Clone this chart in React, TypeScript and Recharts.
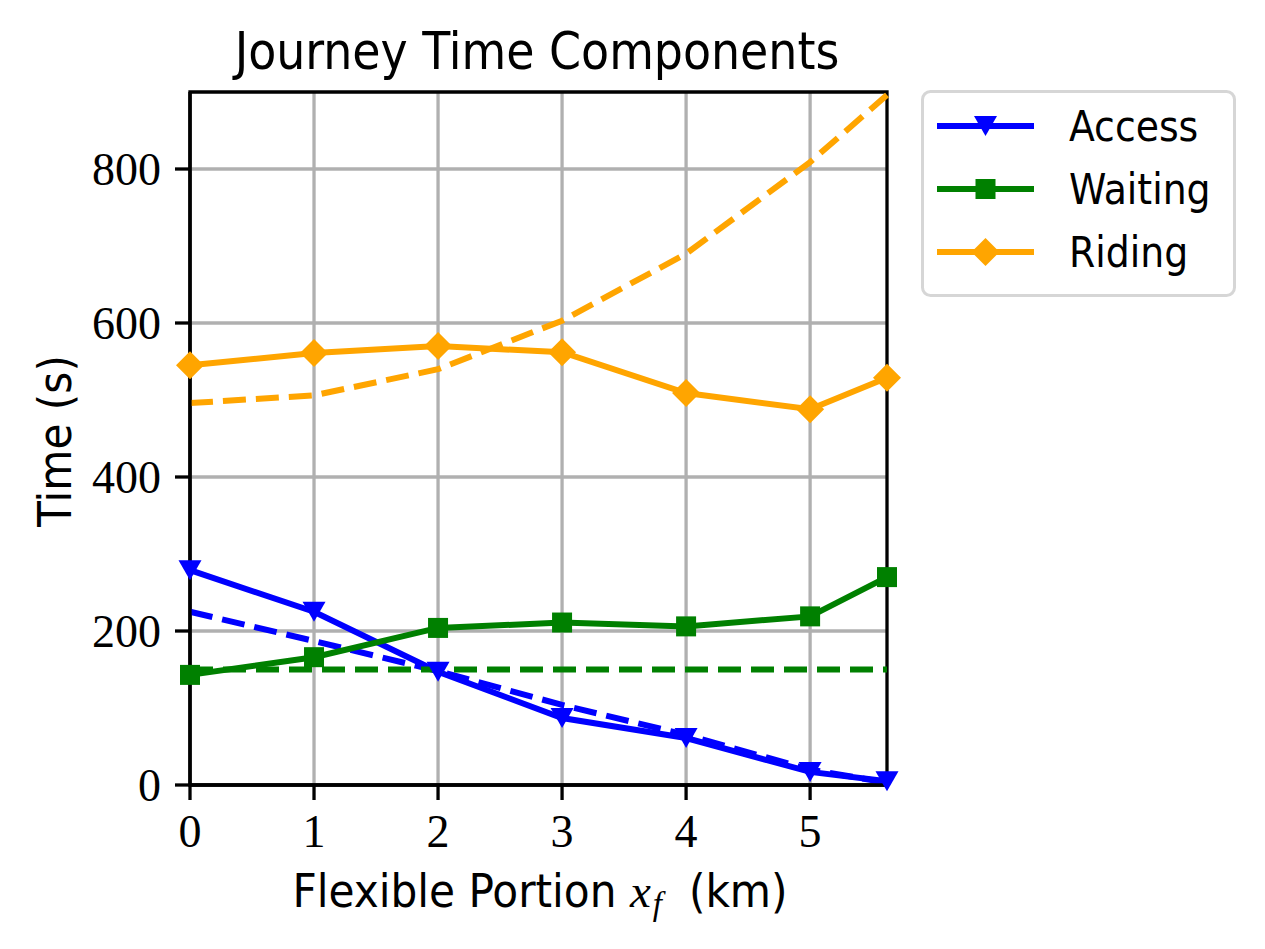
import React from 'react';
import { LineChart, Line, XAxis, YAxis, CartesianGrid, Legend, ReferenceArea } from 'recharts';

const xValues = [0, 1, 2, 3, 4, 5, 5.62];
const accessSim = [279, 225, 147, 87, 61, 17, 5];
const accessModel = [225, 187, 148, 104, 65, 20, 3];
const waitingSim = [143, 166, 204, 211, 206, 219, 270];
const waitingModel = [150, 150, 150, 150, 150, 150, 150];
const ridingSim = [545, 561, 570, 562, 509, 488, 529];
const ridingModel = [496, 506, 540, 603, 690, 809, 896];
const xTicks = [0, 1, 2, 3, 4, 5];
const yTicks = [0, 200, 400, 600, 800];
const seriesNames = ['Access', 'Waiting', 'Riding'];
const seriesColors = ['#0000ff', '#008000', '#ffa500'];
const seriesMarkers = ['triangle', 'square', 'diamond'];

const data = xValues.map((x, i) => ({
  x,
  accessSim: accessSim[i],
  accessModel: accessModel[i],
  waitingSim: waitingSim[i],
  waitingModel: waitingModel[i],
  ridingSim: ridingSim[i],
  ridingModel: ridingModel[i],
}));

const SANS = "'Liberation Sans Narrow', 'DejaVu Sans Condensed', 'DejaVu Sans', sans-serif";
const SERIF = "'Liberation Serif', 'DejaVu Serif', serif";

function Marker({ kind, cx, cy, color }: { kind: string; cx: number; cy: number; color: string }) {
  if (kind === 'triangle') {
    return <polygon points={`${cx - 11.5},${cy - 10} ${cx + 11.5},${cy - 10} ${cx},${cy + 10}`} fill={color} />;
  }
  if (kind === 'square') {
    return <rect x={cx - 10} y={cy - 10} width={20} height={20} fill={color} />;
  }
  return <polygon points={`${cx},${cy - 14} ${cx + 14},${cy} ${cx},${cy + 14} ${cx - 14},${cy}`} fill={color} />;
}

const makeDot = (kind: string, color: string) => (props: any) => {
  const { cx, cy, index } = props;
  if (cx == null || cy == null) return <g key={`d-${kind}-${index}`} />;
  return (
    <g key={`d-${kind}-${index}`}>
      <Marker kind={kind} cx={cx} cy={cy} color={color} />
    </g>
  );
};

function LegendBox() {
  return (
    <svg width={316} height={208} style={{ display: 'block' }}>
      <rect x={1.5} y={1.5} width={312} height={204} rx={8} ry={8} fill="#ffffff" fillOpacity={0.8} stroke="#d6d6d6" strokeWidth={3} />
      {seriesNames.map((name, i) => {
        const y = 36 + i * 63;
        return (
          <g key={name}>
            <line x1={16} x2={113} y1={y} y2={y} stroke={seriesColors[i]} strokeWidth={6} />
            <Marker kind={seriesMarkers[i]} cx={64.5} cy={y} color={seriesColors[i]} />
            <text x={148} y={y + 15} fontFamily={SANS} fontSize={42} fill="#000">
              {name}
            </text>
          </g>
        );
      })}
    </svg>
  );
}

export default function App() {
  return (
    <div style={{ position: 'absolute', left: 0, top: 0, width: 1265, height: 949, background: '#fff' }}>
      <LineChart
        width={1265}
        height={949}
        data={data}
        margin={{ top: 92, right: 378, bottom: 0, left: 0 }}
      >
        <CartesianGrid stroke="#b0b0b0" strokeWidth={3.3} horizontalValues={yTicks} verticalValues={xTicks} />
        <XAxis
          dataKey="x"
          type="number"
          domain={[0, 5.62]}
          ticks={xTicks}
          height={164}
          tickSize={15}
          tickMargin={14}
          axisLine={{ stroke: '#000', strokeWidth: 3.3 }}
          tickLine={{ stroke: '#000', strokeWidth: 3.3 }}
          tick={{ fill: '#000', fontFamily: SERIF, fontSize: 46 }}
          interval={0}
          label={(props: any) => (
            <text x={540} y={907} textAnchor="middle" fontFamily={SANS} fontSize={47} fill="#000">
              Flexible Portion{'\u00a0'}
              <tspan fontFamily={SERIF} fontStyle="italic">x</tspan>
              <tspan fontFamily={SERIF} fontStyle="italic" fontSize={33} dy={8} dx={2}>f</tspan>
              <tspan dy={-8}>{'\u00a0\u00a0(km)'}</tspan>
            </text>
          )}
        />
        <YAxis
          type="number"
          domain={[0, 900]}
          ticks={yTicks}
          width={190}
          tickSize={15}
          tickMargin={14}
          axisLine={{ stroke: '#000', strokeWidth: 3.3 }}
          tickLine={{ stroke: '#000', strokeWidth: 3.3 }}
          tick={{ fill: '#000', fontFamily: SERIF, fontSize: 46 }}
          interval={0}
          label={(props: any) => (
            <text
              x={54}
              y={441}
              transform="rotate(-90 54 441)"
              textAnchor="middle"
              dominantBaseline="central"
              fontFamily={SANS}
              fontSize={47}
              fill="#000"
            >
              Time (s)
            </text>
          )}
        />
        <Legend
          layout="horizontal"
          verticalAlign="middle"
          align="center"
          wrapperStyle={{ left: 921, top: 90, width: 316, height: 208 }}
          content={() => <LegendBox />}
        />
        <Line dataKey="accessSim" stroke={seriesColors[0]} strokeWidth={6} dot={makeDot('triangle', seriesColors[0])} isAnimationActive={false} legendType="none" />
        <Line dataKey="accessModel" stroke={seriesColors[0]} strokeWidth={6} strokeDasharray="23 10" dot={false} isAnimationActive={false} legendType="none" />
        <Line dataKey="waitingSim" stroke={seriesColors[1]} strokeWidth={6} dot={makeDot('square', seriesColors[1])} isAnimationActive={false} legendType="none" />
        <Line dataKey="waitingModel" stroke={seriesColors[1]} strokeWidth={6} strokeDasharray="23 10" dot={false} isAnimationActive={false} legendType="none" />
        <Line dataKey="ridingSim" stroke={seriesColors[2]} strokeWidth={6} dot={makeDot('diamond', seriesColors[2])} isAnimationActive={false} legendType="none" />
        <Line dataKey="ridingModel" stroke={seriesColors[2]} strokeWidth={6} strokeDasharray="23 10" dot={false} isAnimationActive={false} legendType="none" />
        <ReferenceArea
          x1={0}
          x2={5.62}
          y1={0}
          y2={900}
          fill="none"
          fillOpacity={0}
          stroke="#000"
          strokeWidth={3.3}
          strokeOpacity={1}
          ifOverflow="visible"
        />
      </LineChart>
      <div
        style={{
          position: 'absolute',
          left: 0,
          top: 0,
          width: 1074,
          textAlign: 'center',
          fontFamily: SANS,
          fontSize: 51,
          lineHeight: '51px',
          paddingTop: 26,
          color: '#000',
        }}
      >
        Journey Time Components
      </div>
    </div>
  );
}
